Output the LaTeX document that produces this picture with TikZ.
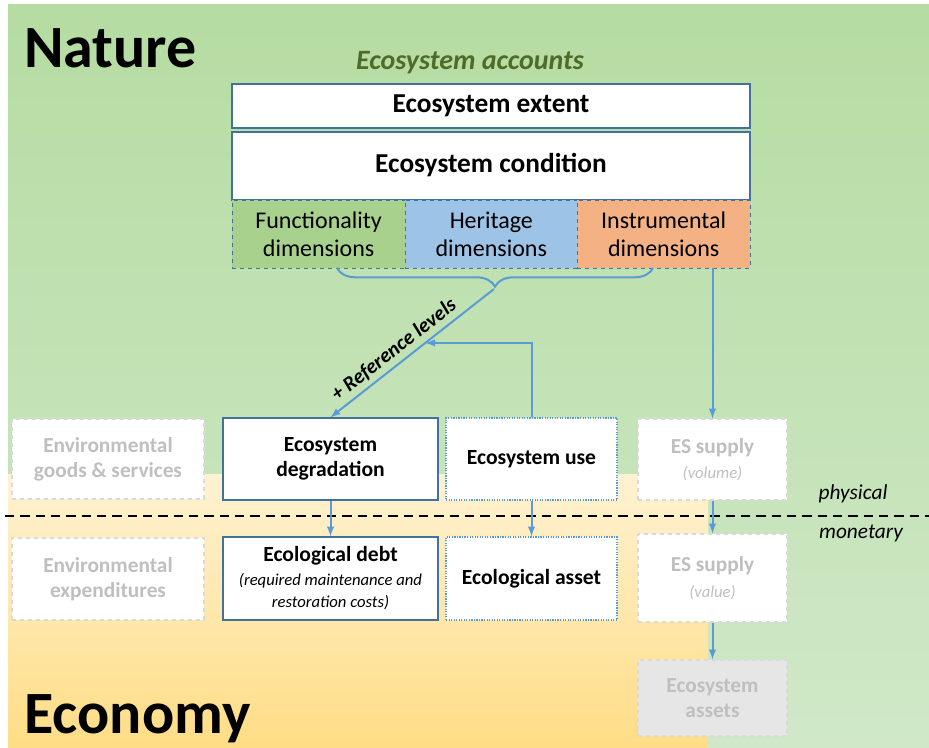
\documentclass[tikz,border=0pt]{standalone}
\usepackage{fontspec}
\setmainfont{Carlito}
\usetikzlibrary{calc,arrows,decorations.pathreplacing}
\newdimen\unitpx \unitpx=0.75pt
\newcommand{\notefont}{\fontsize{12.5}{16}\selectfont\itshape\mdseries}
\definecolor{natgreen}{HTML}{B5DCA2}
\definecolor{natgreenlow}{HTML}{D0E8C8}
\definecolor{ecotop}{HTML}{FFF2D2}
\definecolor{ecomid}{HTML}{FFF5DC}
\definecolor{ecobot}{HTML}{FFDD86}
\definecolor{frameblue}{HTML}{41719C}
\definecolor{flowblue}{HTML}{5B9BD5}
\definecolor{funcgreen}{HTML}{A9D18E}
\definecolor{herblue}{HTML}{9DC3E6}
\definecolor{instorange}{HTML}{F4B183}
\definecolor{accgreen}{HTML}{4F6B2A}
\definecolor{fadegray}{HTML}{BFBFBF}
\definecolor{fadeline}{HTML}{D9D9D9}
\definecolor{assetfill}{HTML}{E6E6E6}

\begin{document}
\begin{tikzpicture}[x=0.75pt,y=-0.75pt,
    title/.style={anchor=base west,inner sep=0pt,font=\fontsize{45}{54}\selectfont\bfseries},
    acc/.style={draw=frameblue,fill=white,line width=0.9pt,inner sep=0pt,minimum width=518\unitpx,text height=12pt,text depth=1.5pt,font=\fontsize{20.5}{24}\selectfont\bfseries},
    dim/.style={draw=frameblue,dashed,line width=0.6pt,inner sep=0pt,minimum width=172.7\unitpx,minimum height=68\unitpx,align=center,font=\fontsize{18}{21}\selectfont},
    mainbox/.style={draw=frameblue,fill=white,line width=0.9pt,inner sep=0pt,align=center,minimum width=215\unitpx,font=\fontsize{16.2}{19}\selectfont\bfseries},
    usebox/.style={mainbox,draw=flowblue,densely dotted,minimum width=171\unitpx},
    greybox/.style={draw=fadeline,dashed,fill=white,line width=0.9pt,inner sep=0pt,align=center,text=fadegray,font=\fontsize{16}{19}\selectfont\bfseries},
    flow/.style={draw=flowblue,line width=1.5pt,-latex},
    side/.style={font=\fontsize{16}{19}\selectfont\itshape}]
  \useasboundingbox (0,0) rectangle (929,748);
  \shade[top color=natgreen,bottom color=natgreenlow] (8,5) rectangle (929,748);
  \shade[top color=ecotop,middle color=ecomid,bottom color=ecobot] (8,475) rectangle (708,748);

  \node[title] (nature) at (24,68) {Nature};
  \node[title] (economy) at (24,733) {Economy};
  \node[font=\fontsize{21}{25}\selectfont\bfseries\itshape,text=accgreen] (accounts) at (470,63) {Ecosystem accounts};

  \node[acc,minimum height=44\unitpx] (extent) at (491,106) {Ecosystem extent};
  \node[acc,minimum height=68\unitpx] (cond) at (491,166) {Ecosystem condition};
  \node[dim,fill=funcgreen] (func) at (318.6,234) {Functionality\\dimensions};
  \node[dim,fill=herblue] (herit) at (491.3,234) {Heritage\\dimensions};
  \node[dim,fill=instorange] (instr) at (663.7,234) {Instrumental\\dimensions};

  \node[greybox,minimum width=192\unitpx,minimum height=80\unitpx] (goods) at (108,459) {Environmental\\goods \& services};
  \node[mainbox,minimum height=82\unitpx] (degr) at (330.5,459) {Ecosystem\\degradation};
  \node[usebox,minimum height=82\unitpx] (use) at (531.5,459) {Ecosystem use};
  \node[greybox,minimum width=149\unitpx,minimum height=81\unitpx] (esvol) at (712.5,459.5) {ES supply\\{\notefont (volume)}};

  \node[greybox,minimum width=192\unitpx,minimum height=82\unitpx] (expend) at (108,579) {Environmental\\expenditures};
  \node[mainbox,minimum height=83\unitpx] (debt) at (330.5,578.5) {Ecological debt\\[-1pt]{\notefont (required maintenance and}\\[-2.5pt]{\notefont restoration costs)}};
  \node[usebox,minimum height=83\unitpx] (asset) at (531.5,578.5) {Ecological asset};
  \node[greybox,minimum width=149\unitpx,minimum height=88\unitpx] (esval) at (712.5,578) {ES supply\\{\notefont (value)}};
  \node[greybox,fill=assetfill,minimum width=149\unitpx,minimum height=76\unitpx] (esasset) at (712.5,698) {Ecosystem\\assets};

  \draw[line width=1.8pt,dash pattern=on 7pt off 4.5pt] (5,516) -- (929,516);
  \node[side] (phys) at (853,494) {physical};
  \node[side] (monet) at (861,533) {monetary};

  \draw[flowblue,line width=1.5pt,decorate,decoration={brace,mirror,amplitude=14pt}] (337,268) -- (653,268);
  \coordinate (bracetip) at (494,289);
  \draw[flow] (bracetip) -- coordinate[pos=0.42] (refpt)
    node[sloped,above,pos=0.56,font=\fontsize{15.5}{18}\selectfont\bfseries\itshape] {+ Reference levels} (degr.north);
  \draw[flow] (use.north) |- (refpt);
  \draw[flow] (esvol.north |- instr.south) -- (esvol.north);
  \draw[flow] (degr) -- (debt);
  \draw[flow] (use) -- (asset);
  \draw[flow] (esvol) -- (esval);
  \draw[flow] (esval) -- (esasset);
\end{tikzpicture}
\end{document}
